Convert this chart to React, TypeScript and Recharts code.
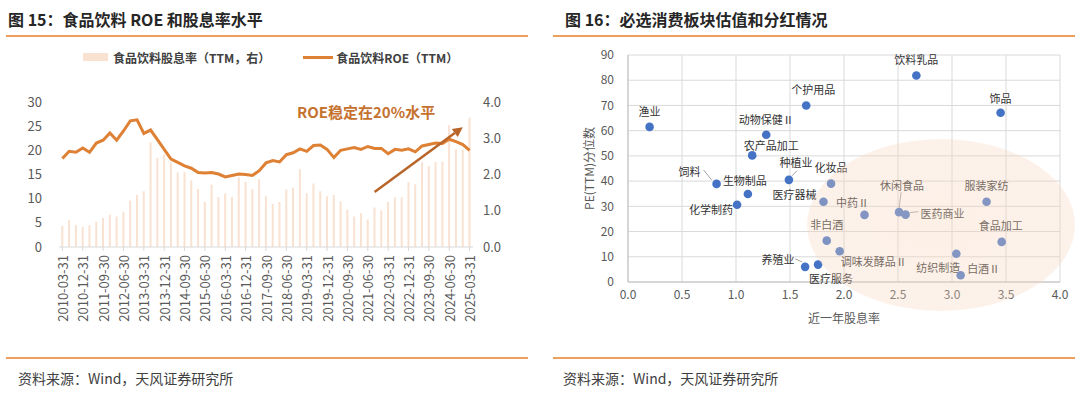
import React from 'react';
import {
  ComposedChart, Bar, Line, XAxis, YAxis, Legend, ReferenceLine,
  ScatterChart, Scatter, CartesianGrid,
} from 'recharts';

// ---------- Figure 15 data ----------
const quarters = [
  '2010-03-31','2010-06-30','2010-09-30','2010-12-31','2011-03-31','2011-06-30','2011-09-30','2011-12-31',
  '2012-03-31','2012-06-30','2012-09-30','2012-12-31','2013-03-31','2013-06-30','2013-09-30','2013-12-31',
  '2014-03-31','2014-06-30','2014-09-30','2014-12-31','2015-03-31','2015-06-30','2015-09-30','2015-12-31',
  '2016-03-31','2016-06-30','2016-09-30','2016-12-31','2017-03-31','2017-06-30','2017-09-30','2017-12-31',
  '2018-03-31','2018-06-30','2018-09-30','2018-12-31','2019-03-31','2019-06-30','2019-09-30','2019-12-31',
  '2020-03-31','2020-06-30','2020-09-30','2020-12-31','2021-03-31','2021-06-30','2021-09-30','2021-12-31',
  '2022-03-31','2022-06-30','2022-09-30','2022-12-31','2023-03-31','2023-06-30','2023-09-30','2023-12-31',
  '2024-03-31','2024-06-30','2024-09-30','2024-12-31','2025-03-31',
];
const roeTTM = [
  18.3, 19.8, 19.6, 20.5, 19.6, 21.5, 22.1, 23.6, 22.1, 24.0, 26.1, 26.3, 23.5, 24.2, 22.2, 20.2,
  18.2, 17.5, 16.8, 16.3, 15.4, 15.3, 15.4, 15.1, 14.5, 14.8, 15.1, 15.0, 14.8, 15.8, 17.4, 17.9,
  17.6, 19.1, 19.5, 20.3, 19.8, 21.0, 21.1, 20.2, 18.5, 20.0, 20.3, 20.6, 20.2, 20.8, 20.4, 20.4,
  19.3, 20.2, 20.0, 20.3, 19.7, 20.9, 21.2, 21.5, 21.4, 22.3, 21.8, 21.2, 20.0,
];
const dividendYieldTTM = [
  0.58, 0.74, 0.61, 0.56, 0.60, 0.70, 0.80, 0.89, 0.84, 0.97, 1.28, 1.44, 1.54, 2.89, 2.46, 2.55,
  2.34, 2.06, 2.07, 1.84, 1.60, 1.25, 1.72, 1.38, 1.48, 1.38, 1.92, 1.80, 1.60, 1.87, 1.40, 1.19,
  1.24, 1.59, 1.64, 2.15, 1.48, 1.75, 1.54, 1.40, 1.44, 1.26, 1.03, 0.84, 0.93, 0.76, 1.09, 1.01,
  1.24, 1.37, 1.37, 1.79, 1.73, 2.34, 2.23, 2.34, 2.36, 3.36, 2.69, 2.69, 3.57,
];
const leftTicks = [0, 5, 10, 15, 20, 25, 30];
const rightTicks = [0, 0.5, 1, 1.5, 2, 2.5, 3, 3.5, 4];

// ---------- Figure 16 data ----------
const sectorNames = [
  '渔业', '饮料乳品', '个护用品', '饰品', '动物保健Ⅱ', '农产品加工', '种植业', '饲料', '生物制品',
  '化学制药', '化妆品', '医疗器械', '中药Ⅱ', '休闲食品', '医药商业', '服装家纺', '非白酒', '食品加工',
  '调味发酵品Ⅱ', '纺织制造', '养殖业', '医疗服务', '白酒Ⅱ',
];
const sectorYield = [
  0.20, 2.67, 1.65, 3.45, 1.28, 1.15, 1.49, 0.82, 1.11,
  1.01, 1.88, 1.81, 2.19, 2.51, 2.57, 3.32, 1.84, 3.46,
  1.96, 3.04, 1.64, 1.76, 3.08,
];
const sectorPE = [
  61.5, 81.9, 70.0, 67.1, 58.4, 50.2, 40.5, 38.9, 34.9,
  30.6, 39.0, 31.8, 26.6, 27.7, 26.7, 31.8, 16.4, 15.9,
  12.2, 11.2, 6.0, 6.9, 2.7,
];
const xTicksRight = [0, 0.5, 1, 1.5, 2, 2.5, 3, 3.5, 4];
const yTicksRight = [0, 10, 20, 30, 40, 50, 60, 70, 80, 90];

// label placement (relative to the dot), layout only
const labelLayout: Record<string, { dx: number; dy: number; leader?: number[] }> = {
  '渔业': { dx: 0, dy: -16 },
  '饮料乳品': { dx: 0, dy: -16 },
  '个护用品': { dx: 7, dy: -16 },
  '饰品': { dx: 0, dy: -15 },
  '动物保健Ⅱ': { dx: 0, dy: -16 },
  '农产品加工': { dx: 19, dy: -10 },
  '种植业': { dx: 7, dy: -18, leader: [3, -4, 8, -9] },
  '饲料': { dx: -27, dy: -13, leader: [-13, -14, -5, -4] },
  '生物制品': { dx: -3, dy: -14 },
  '化学制药': { dx: -26, dy: 4 },
  '化妆品': { dx: 0, dy: -17 },
  '医疗器械': { dx: -29, dy: -8 },
  '中药Ⅱ': { dx: -12, dy: -13 },
  '休闲食品': { dx: 3, dy: -27, leader: [2, -20, 0, -4] },
  '医药商业': { dx: 37, dy: -2, leader: [4, -2, 13, -3] },
  '服装家纺': { dx: 0, dy: -17 },
  '非白酒': { dx: 0, dy: -17 },
  '食品加工': { dx: -1, dy: -17 },
  '调味发酵品Ⅱ': { dx: 34, dy: 10 },
  '纺织制造': { dx: -18, dy: 13 },
  '养殖业': { dx: -27, dy: -8, leader: [-10, -8, -3, -5] },
  '医疗服务': { dx: 13, dy: 13 },
  '白酒Ⅱ': { dx: 23, dy: -7 },
};

const FONT = '"Noto Sans CJK SC", "Noto Sans", sans-serif';
const BAR_COLOR = '#F9E2D1';
const LINE_COLOR = '#DE8135';
const RULE_COLOR = '#EE9F5E';
const DOT_COLOR = '#4472C4';

const leftData = quarters.map((q, i) => ({ date: q, roe: roeTTM[i], dy: dividendYieldTTM[i] }));
const sectorData = sectorNames.map((n, i) => ({ name: n, x: sectorYield[i], y: sectorPE[i] }));

const RotatedTick = (props: any) => {
  const { x, y, payload } = props;
  return (
    <text x={x} y={y} transform={`rotate(-90 ${x} ${y})`} textAnchor="end" dominantBaseline="central"
      fontSize={13} fill="#595959" fontFamily={FONT}>{payload.value}</text>
  );
};

const LeftLegend = () => (
  <div style={{ display: 'flex', alignItems: 'center', fontSize: 12, fontWeight: 700, color: '#404040', paddingLeft: 83, fontFamily: FONT, height: 18 }}>
    <span style={{ display: 'inline-block', width: 25, height: 8, background: BAR_COLOR, marginRight: 5 }} />
    <span>食品饮料股息率（TTM，右）</span>
    <span style={{ display: 'inline-block', width: 30, height: 3, background: LINE_COLOR, marginLeft: 33, marginRight: 3 }} />
    <span>食品饮料ROE（TTM）</span>
  </div>
);

const ArrowShape = (props: any) => {
  const { x1, y1, x2, y2 } = props;
  if ([x1, y1, x2, y2].some((v) => typeof v !== 'number')) return null;
  const ang = Math.atan2(y2 - y1, x2 - x1);
  const L = 10, W = 5;
  const bx = x2 - L * Math.cos(ang), by = y2 - L * Math.sin(ang);
  const p1 = `${x2},${y2}`;
  const p2 = `${bx + W * Math.sin(ang)},${by - W * Math.cos(ang)}`;
  const p3 = `${bx - W * Math.sin(ang)},${by + W * Math.cos(ang)}`;
  return (
    <g>
      <line x1={x1} y1={y1} x2={bx} y2={by} stroke="#B8652A" strokeWidth={2.5} />
      <polygon points={`${p1} ${p2} ${p3}`} fill="#B8652A" />
    </g>
  );
};

const SectorShape = (props: any) => {
  const { cx, cy, payload } = props;
  if (typeof cx !== 'number' || typeof cy !== 'number') return null;
  const o = labelLayout[payload.name] || { dx: 0, dy: -16 };
  return (
    <g>
      {o.leader && (
        <line x1={cx + o.leader[0]} y1={cy + o.leader[1]} x2={cx + o.leader[2]} y2={cy + o.leader[3]}
          stroke="#8c8c8c" strokeWidth={0.8} />
      )}
      <circle cx={cx} cy={cy} r={4.3} fill={DOT_COLOR} />
      <text x={cx + o.dx} y={cy + o.dy} textAnchor="middle" dominantBaseline="central" fontSize={11}
        fill="#333" fontFamily={FONT}>{payload.name}</text>
    </g>
  );
};

const abs = (s: React.CSSProperties): React.CSSProperties => ({ position: 'absolute', ...s });

export default function App() {
  return (
    <div style={{ position: 'absolute', left: 0, top: 0, width: 1080, height: 397, background: '#fff', fontFamily: FONT, overflow: 'hidden' }}>
      {/* Titles */}
      <div style={abs({ left: 8, top: 8, fontSize: 16, fontWeight: 700, color: '#262626', lineHeight: '22px', whiteSpace: 'nowrap' })}>图 15：食品饮料 ROE 和股息率水平</div>
      <div style={abs({ left: 565, top: 8, fontSize: 16, fontWeight: 700, color: '#262626', lineHeight: '22px', whiteSpace: 'nowrap' })}>图 16：必选消费板块估值和分红情况</div>
      <div style={abs({ left: 6, top: 35, width: 522, height: 2, background: RULE_COLOR })} />
      <div style={abs({ left: 553, top: 35, width: 522, height: 2, background: RULE_COLOR })} />

      {/* Left chart */}
      <div style={abs({ left: 0, top: 0 })}>
        <ComposedChart width={530} height={345} data={leftData} margin={{ top: 84, right: 17, bottom: 0, left: 19 }} barCategoryGap="34%">
          <Legend verticalAlign="top" content={<LeftLegend />} wrapperStyle={{ top: 48, left: 0, width: 530 }} />
          <XAxis dataKey="date" interval={2} height={98} tick={<RotatedTick />} tickLine={{ stroke: '#D9D9D9' }} tickSize={4} tickMargin={4} axisLine={{ stroke: '#D9D9D9' }} />
          <YAxis yAxisId="left" domain={[0, 30]} ticks={leftTicks} width={40} axisLine={false} tickLine={false} tickSize={0} tickMargin={17}
            tick={{ fontSize: 13, fill: '#595959', fontFamily: FONT }} />
          <YAxis yAxisId="right" orientation="right" domain={[0, 4]} ticks={rightTicks} width={40} axisLine={false} tickLine={false} tickSize={0} tickMargin={10}
            tickFormatter={(v: number) => v.toFixed(1)} tick={{ fontSize: 13, fill: '#595959', fontFamily: FONT }} />
          <Bar yAxisId="right" dataKey="dy" fill={BAR_COLOR} isAnimationActive={false} />
          <Line yAxisId="left" dataKey="roe" stroke={LINE_COLOR} strokeWidth={3} dot={false} isAnimationActive={false} />
          <ReferenceLine yAxisId="left" segment={[{ x: '2021-09-30', y: 11.4 }, { x: '2024-12-31', y: 24.8 }]}
            ifOverflow="visible" shape={<ArrowShape />} />
        </ComposedChart>
      </div>
      <div style={abs({ left: 297, top: 101, fontSize: 15, fontWeight: 700, color: '#C6722F', whiteSpace: 'nowrap', lineHeight: '22px' })}>ROE稳定在20%水平</div>

      {/* Right chart */}
      <div style={abs({ left: 555, top: 0 })}>
        <ScatterChart width={525} height={345} margin={{ top: 55, right: 20, bottom: 0, left: 23 }}>
          <CartesianGrid stroke="#D9D9D9" />
          <XAxis type="number" dataKey="x" domain={[0, 4]} ticks={xTicksRight} height={63} tickFormatter={(v: number) => v.toFixed(1)}
            tick={{ fontSize: 12, fill: '#595959', fontFamily: FONT }} tickLine={false} axisLine={{ stroke: '#BFBFBF' }}
            label={{ value: '近一年股息率', position: 'insideBottom', offset: 22, fontSize: 12, fill: '#595959', fontFamily: FONT }} />
          <YAxis type="number" dataKey="y" domain={[0, 90]} ticks={yTicksRight} width={50} tickLine={false} tickMargin={8}
            tick={{ fontSize: 12, fill: '#595959', fontFamily: FONT }} axisLine={{ stroke: '#BFBFBF' }}
            label={{ value: 'PE(TTM)分位数', angle: -90, position: 'insideLeft', offset: 12, fontSize: 12, fill: '#595959', fontFamily: FONT, style: { textAnchor: 'middle' } }} />
          <Scatter data={sectorData} shape={<SectorShape />} isAnimationActive={false} />
        </ScatterChart>
      </div>
      {/* highlight ellipse */}
      <div style={abs({
        left: 807, top: 139, width: 268, height: 172, borderRadius: '50%', pointerEvents: 'none',
        background: 'radial-gradient(ellipse at 50% 50%, rgba(247,214,190,0.38) 0%, rgba(247,214,190,0.32) 70%, rgba(247,214,190,0.05) 100%)',
      })} />

      {/* Footers */}
      <div style={abs({ left: 6, top: 357, width: 522, height: 2, background: RULE_COLOR })} />
      <div style={abs({ left: 553, top: 357, width: 522, height: 2, background: RULE_COLOR })} />
      <div style={abs({ left: 18, top: 368, fontSize: 14, color: '#404040', lineHeight: '20px', whiteSpace: 'nowrap' })}>资料来源：Wind，天风证券研究所</div>
      <div style={abs({ left: 563, top: 368, fontSize: 14, color: '#404040', lineHeight: '20px', whiteSpace: 'nowrap' })}>资料来源：Wind，天风证券研究所</div>
    </div>
  );
}
